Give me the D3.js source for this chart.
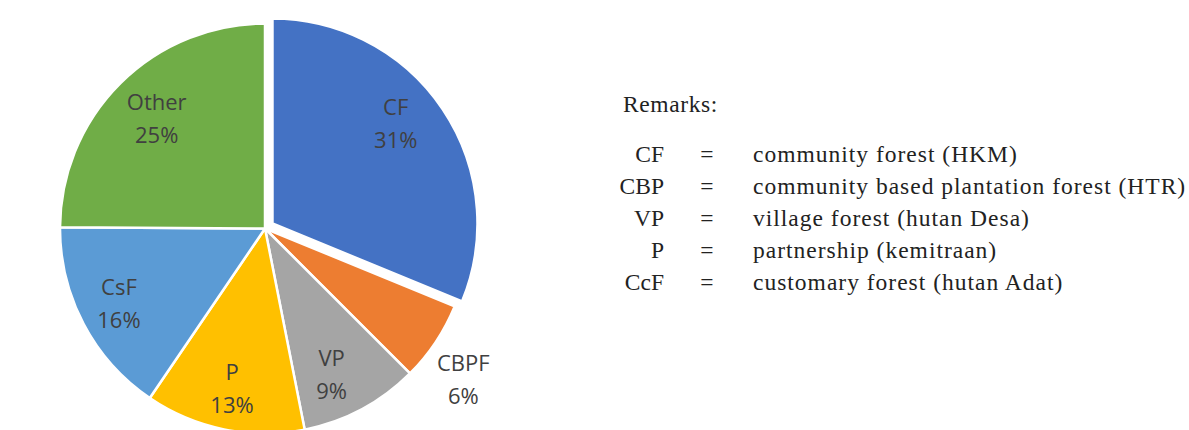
<!DOCTYPE html>
<html>
<head>
<meta charset="utf-8">
<script src="https://cdn.jsdelivr.net/npm/d3@7"></script>
<style>
  html, body { margin: 0; padding: 0; background: #fff; }
  svg { display: block; }
</style>
</head>
<body>
<svg id="chart" width="1189" height="430"></svg>
<script>
// ---- data ----
const categories = ["CF", "CBPF", "VP", "P", "CsF", "Other"];
const shares = [31.2, 6.3, 9.4, 12.6, 15.6, 24.9];
const colors = ["#4472C4", "#ED7D31", "#A5A5A5", "#FFC000", "#5B9BD5", "#70AD47"];
const explodedCategory = "CF";

const remarksTitle = "Remarks:";
const remarkCodes = ["CF", "CBP", "VP", "P", "CcF"];
const remarkTexts = [
  "community forest (HKM)",
  "community based plantation forest (HTR)",
  "village forest (hutan Desa)",
  "partnership (kemitraan)",
  "customary forest (hutan Adat)"
];

// ---- layout ----
const svg = d3.select("#chart");
const cx = 265, cy = 228.5, R = 205;
const explode = 9;
// label placement (radius from centre, angular nudge in degrees) per slice
const labelPlacement = {
  CF:    { r: 154, da: -3 },
  CBPF:  { r: 254, da: 5 },
  VP:    { r: 168, da: 4.7 },
  P:     { r: 171, da: -0.4 },
  CsF:   { r: 168, da: -1.9 },
  Other: { r: 149, da: -1.8 }
};
const total = d3.sum(shares);

const data = categories.map((c, i) => ({ name: c, value: shares[i], color: colors[i] }));
const pie = d3.pie().value(d => d.value).sort(null);
const arcs = pie(data);
const arc = d3.arc().innerRadius(0).outerRadius(R);

const g = svg.append("g").attr("transform", `translate(${cx},${cy})`);

function offset(d) {
  if (d.data.name !== explodedCategory) return [0, 0];
  const a = (d.startAngle + d.endAngle) / 2;
  return [Math.sin(a) * explode, -Math.cos(a) * explode];
}

g.selectAll("path.slice")
  .data(arcs)
  .join("path")
  .attr("class", "slice")
  .attr("d", arc)
  .attr("transform", d => `translate(${offset(d)})`)
  .attr("fill", d => d.data.color)
  .attr("stroke", "#ffffff")
  .attr("stroke-width", 2.5)
  .attr("stroke-linejoin", "round");

const labels = g.selectAll("text.lbl")
  .data(arcs)
  .join("text")
  .attr("class", "lbl")
  .attr("transform", d => {
    const lp = labelPlacement[d.data.name];
    const a = (d.startAngle + d.endAngle) / 2 + lp.da * Math.PI / 180;
    const la = d3.arc().innerRadius(lp.r).outerRadius(lp.r);
    const p = la.centroid({ startAngle: a, endAngle: a });
    const o = offset(d);
    return `translate(${p[0] + o[0]},${p[1] + o[1]})`;
  })
  .attr("text-anchor", "middle")
  .attr("font-family", "'Open Sans', sans-serif")
  .attr("font-size", 22)
  .attr("fill", "#404040");

labels.append("tspan").attr("x", 0).attr("y", -16.5).text(d => d.data.name);
labels.append("tspan").attr("x", 0).attr("y", 16.5)
  .text(d => Math.round(d.data.value / total * 100) + "%");

// ---- remarks ----
const rg = svg.append("g")
  .attr("font-family", "'Liberation Serif', 'Times New Roman', serif")
  .attr("font-size", 23.5)
  .attr("fill", "#222");

rg.append("text").attr("x", 623).attr("y", 112).attr("letter-spacing", 0.6).text(remarksTitle);

const y0 = 162, dy = 32;
remarkCodes.forEach((code, i) => {
  const y = y0 + i * dy;
  rg.append("text").attr("x", 664).attr("y", y).attr("text-anchor", "end").text(code);
  rg.append("text").attr("x", 707).attr("y", y).attr("text-anchor", "middle").text("=");
  rg.append("text").attr("x", 753).attr("y", y).attr("letter-spacing", 1.0).text(remarkTexts[i]);
});
</script>
</body>
</html>
